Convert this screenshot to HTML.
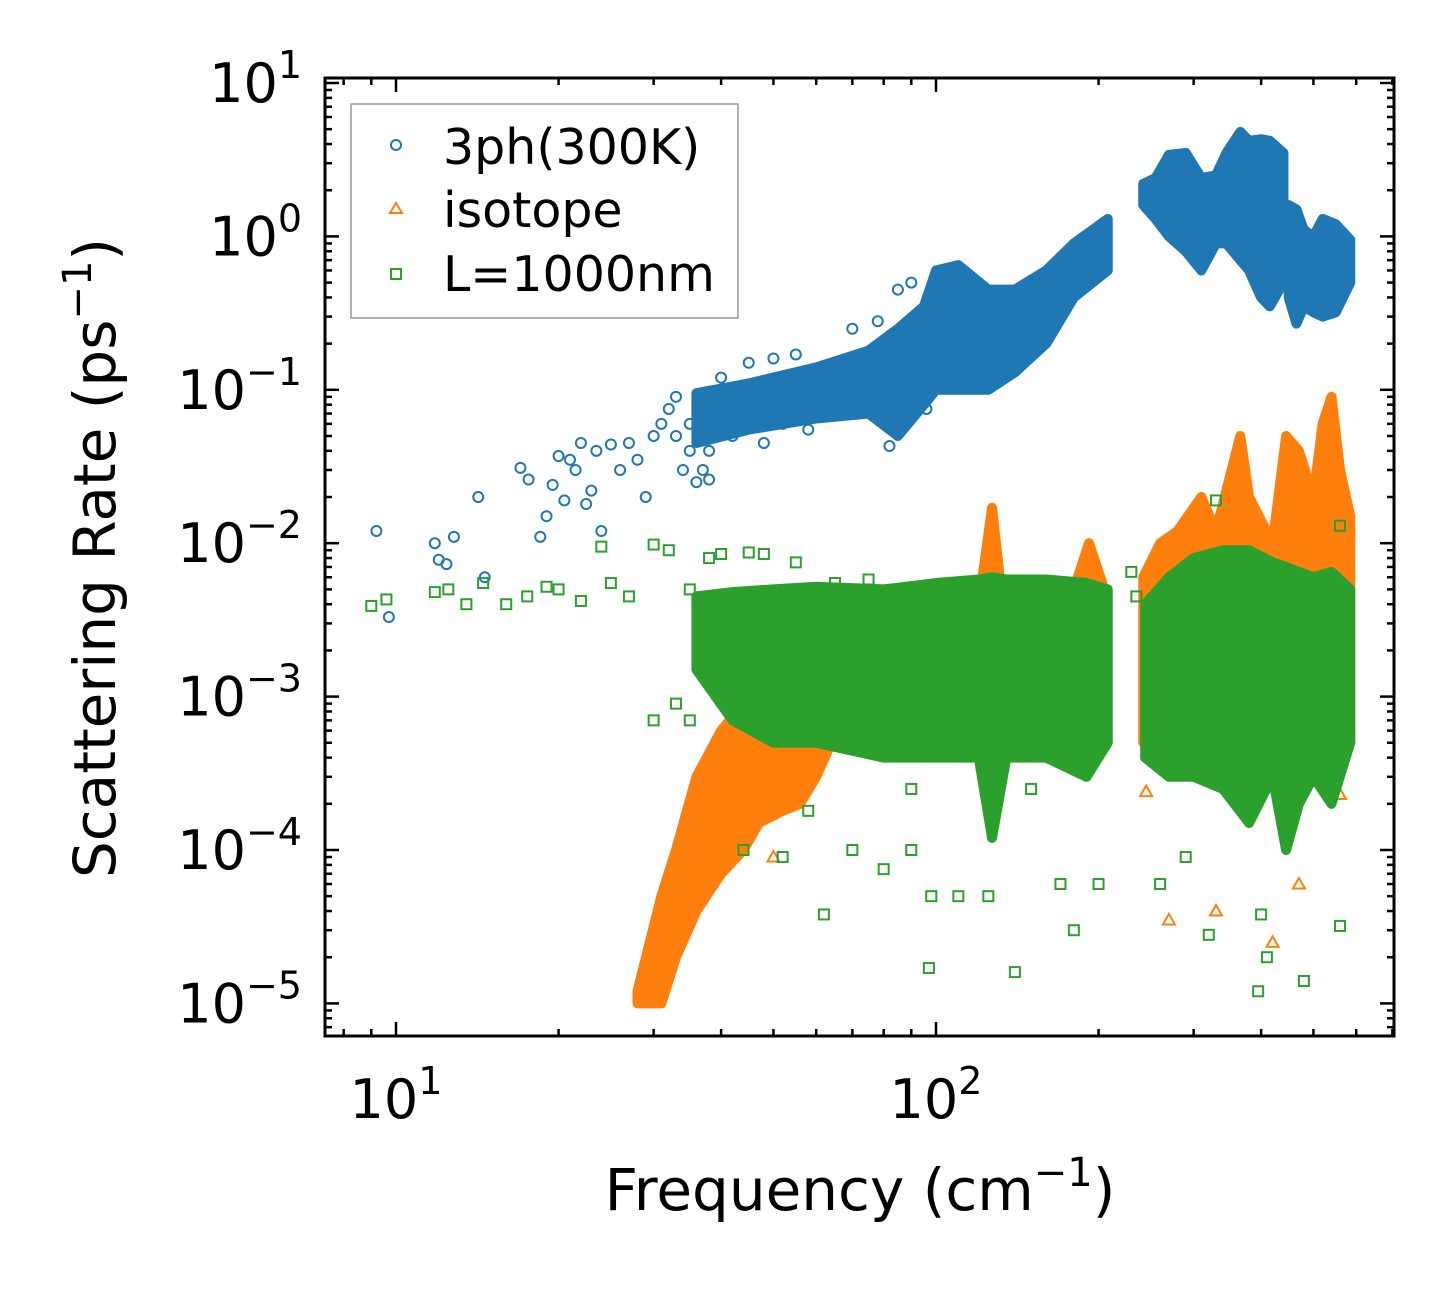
<!DOCTYPE html>
<html><head><meta charset="utf-8"><style>
html,body{margin:0;padding:0;background:#fff;}
svg text{font-family:"DejaVu Sans","Liberation Sans",sans-serif;fill:#000;}
</style></head><body>
<svg id="chart" width="1455" height="1285" viewBox="0 0 1455 1285" xmlns="http://www.w3.org/2000/svg">
<g id="marks"></g>
<g id="axes"></g>
<rect x="325" y="78" width="1069" height="958" fill="none" stroke="#000" stroke-width="3"/>
<g>
<rect x="351" y="104" width="387" height="214" fill="#fff" stroke="#999" stroke-width="1.5"/>
<g><circle cx="396" cy="145" r="5" fill="none" stroke="#1f77b4" stroke-width="2"/><text x="443" y="164" font-size="49">3ph(300K)</text></g>
<g><polygon points="396,203 402,213 390,213" fill="none" stroke="#ff7f0e" stroke-width="2"/><text x="443" y="227" font-size="49">isotope</text></g>
<g><rect x="391" y="269" width="10" height="10" fill="none" stroke="#2ca02c" stroke-width="2"/><text x="443" y="291" font-size="49">L=1000nm</text></g>
</g>
<text x="860" y="1210" font-size="58" text-anchor="middle">Frequency (cm<tspan dy="-24" font-size="40">−1</tspan><tspan dy="24">)</tspan></text>
<text transform="translate(115,558) rotate(-90)" font-size="58" text-anchor="middle">Scattering Rate (ps<tspan dy="-24" font-size="40">−1</tspan><tspan dy="24">)</tspan></text>
</svg>
<script>
const xTickLabels=["1","2"];
const yTickExps=[1,0,-1,-2,-3,-4,-5];
// blue dense bands
const blueSegFreq=[[36,45,60,75,85,95,100,110,125,140,160,180,208],[242,255,270,290,310,330],[330,345,366,380,400,415,440],[450,465,480,500,520,550,585]];
const blueSegLo=[[0.045,0.055,0.065,0.07,0.05,0.08,0.1,0.1,0.1,0.13,0.2,0.4,0.6],[1.6,1.3,1.0,0.8,0.6,0.9],[0.9,0.9,0.7,0.6,0.4,0.35,0.5],[0.4,0.27,0.35,0.32,0.3,0.32,0.5]];
const blueSegHi=[[0.095,0.11,0.14,0.18,0.25,0.35,0.6,0.65,0.45,0.45,0.6,0.9,1.3],[2.2,2.4,3.4,3.5,2.4,2.5],[2.5,3.5,4.8,4.2,4.3,4.2,3.5],[1.6,1.5,1.1,1.0,1.3,1.2,0.95]];
const blueFreq=[9.2,9.7,11.8,12,12.4,12.8,14.2,14.6,17,17.6,18.5,19,19.5,20,20.5,21,21.5,22,22.5,23,23.5,24,25,26,27,28,29,30,31,32,33,34,35,36,37,38,40,45,50,55,70,78,82,92,96,85,90,33,35,38,42,48,52,58,65];
const blueVal=[0.012,0.0033,0.01,0.0078,0.0073,0.011,0.02,0.006,0.031,0.026,0.011,0.015,0.024,0.037,0.019,0.035,0.03,0.045,0.018,0.022,0.04,0.012,0.044,0.03,0.045,0.035,0.02,0.05,0.06,0.075,0.09,0.03,0.04,0.025,0.03,0.026,0.12,0.15,0.16,0.17,0.25,0.28,0.043,0.08,0.075,0.45,0.5,0.05,0.06,0.04,0.05,0.045,0.06,0.055,0.07];
// orange bands
const orSegFreq=[[28,31,33,36,40,44,47,52,56,60,64,75,100,120,127,132,150,180,192,205],[242,260,280,310,330,366,380,420,445,470,500,520,540,560,585]];
const orSegLo=[[0.00001,0.00001,0.00002,0.00004,0.00007,0.0001,0.00015,0.00018,0.0002,0.0003,0.0005,0.0006,0.0006,0.0006,0.0005,0.0006,0.0006,0.0006,0.0006,0.0006],[0.0005,0.0005,0.0005,0.0005,0.0005,0.0005,0.0004,0.0004,0.0004,0.0004,0.0004,0.0004,0.0004,0.0004,0.0005]];
const orSegHi=[[0.000012,0.00005,0.0001,0.0003,0.0006,0.0009,0.001,0.0012,0.0015,0.002,0.003,0.004,0.004,0.004,0.017,0.005,0.005,0.005,0.01,0.005],[0.006,0.01,0.012,0.02,0.012,0.05,0.02,0.01,0.05,0.04,0.02,0.06,0.09,0.03,0.015]];
const orFreq=[50,245,270,330,420,470,560,570];
const orVal=[0.00009,0.00024,0.000035,0.00004,0.000025,0.00006,0.00023,0.0005];
// green bands
const grSegFreq=[[36,42,50,60,80,100,120,127,135,160,190,208],[244,270,300,340,380,420,445,470,500,540,585]];
const grSegLo=[[0.0015,0.0007,0.0005,0.0005,0.0004,0.0004,0.0004,0.00012,0.0004,0.0004,0.0003,0.0005],[0.0004,0.0003,0.0003,0.00025,0.00015,0.0003,0.0001,0.0002,0.0003,0.0002,0.0005]];
const grSegHi=[[0.0045,0.0048,0.005,0.0052,0.005,0.0055,0.0058,0.006,0.0058,0.0058,0.0055,0.005],[0.004,0.006,0.008,0.009,0.009,0.0075,0.007,0.0065,0.006,0.0065,0.005]];
const grFreq=[9,9.6,11.8,12.5,13.5,14.5,16,17.5,19,20,22,24,25,27,30,32,35,38,30,33,35,44,52,58,62,70,80,90,97,98,110,125,140,170,180,200,260,290,320,400,410,395,480,560,560,330,40,45,48,55,65,75,90,150,230,235];
const grVal=[0.0039,0.0043,0.0048,0.005,0.004,0.0055,0.004,0.0045,0.0052,0.005,0.0042,0.0095,0.0055,0.0045,0.0098,0.009,0.005,0.008,0.0007,0.0009,0.0007,0.0001,0.00009,0.00018,0.000038,0.0001,0.000075,0.0001,0.000017,0.00005,0.00005,0.00005,0.000016,0.00006,0.00003,0.00006,0.00006,0.00009,0.000028,0.000038,0.00002,0.000012,0.000014,0.000032,0.013,0.019,0.0085,0.0087,0.0085,0.0075,0.0055,0.0058,0.00025,0.00025,0.0065,0.0045];

const NS='http://www.w3.org/2000/svg';
const X=f=>396+540*(Math.log10(f)-1);
const Y=v=>83-153.4*(Math.log10(v)-1);
const marks=document.getElementById('marks'), axes=document.getElementById('axes');
function mk(tag,attrs,parent){const e=document.createElementNS(NS,tag);for(const k in attrs)e.setAttribute(k,attrs[k]);parent.appendChild(e);return e;}
function bands(F,L,H,color,name){
  F.forEach((fr,i)=>{
    const pts=fr.map((f,j)=>X(f)+','+Y(H[i][j])).concat(fr.slice().reverse().map((f,j)=>X(f)+','+Y(L[i][fr.length-1-j])));
    const p=mk('polygon',{points:pts.join(' '),fill:color,stroke:color,'stroke-width':10,'stroke-linejoin':'round'},marks);
    
    
  });
}
function pts(F,V,color,shape,name){
  F.forEach((f,i)=>{
    const x=X(f),y=Y(V[i]);let e;
    if(shape==='c')e=mk('circle',{cx:x,cy:y,r:5,fill:'none',stroke:color,'stroke-width':2},marks);
    else if(shape==='t')e=mk('polygon',{points:`${x},${y-6} ${x+6},${y+4.5} ${x-6},${y+4.5}`,fill:'none',stroke:color,'stroke-width':2},marks);
    else e=mk('rect',{x:x-5,y:y-5,width:10,height:10,fill:'none',stroke:color,'stroke-width':2},marks);
    
    
  });
}
bands(blueSegFreq,blueSegLo,blueSegHi,'#1f77b4','3ph');
pts(blueFreq,blueVal,'#1f77b4','c','3ph');
bands(orSegFreq,orSegLo,orSegHi,'#ff7f0e','isotope');
pts(orFreq,orVal,'#ff7f0e','t','isotope');
bands(grSegFreq,grSegLo,grSegHi,'#2ca02c','boundary');
pts(grFreq,grVal,'#2ca02c','s','boundary');

const L=325,R=1394,T=78,B=1036;
for(let d=0;d<3;d++){for(let m=1;m<10;m++){const f=Math.pow(10,d)*m;const x=X(f);if(x<L||x>R)continue;const len=m===1?14:7;
  let t=mk('line',{x1:x,x2:x,y1:B,y2:B-len,stroke:'#000','stroke-width':2.5},axes);
  t=mk('line',{x1:x,x2:x,y1:T,y2:T+len,stroke:'#000','stroke-width':2.5},axes);}}
xTickLabels.forEach((s,i)=>{const x=X(Math.pow(10,i+1));const t=mk('text',{x:x,y:1118,'font-size':54,'text-anchor':'middle'},axes);t.innerHTML='10<tspan dy="-24" font-size="38">'+s+'</tspan>';
  });
for(let d=-6;d<2;d++){for(let m=1;m<10;m++){const v=Math.pow(10,d)*m;const y=Y(v);if(y<T||y>B)continue;const len=m===1?14:7;
  let t=mk('line',{x1:L,x2:L+len,y1:y,y2:y,stroke:'#000','stroke-width':2.5},axes);
  t=mk('line',{x1:R,x2:R-len,y1:y,y2:y,stroke:'#000','stroke-width':2.5},axes);}}
yTickExps.forEach(e=>{const y=Y(Math.pow(10,e));const t=mk('text',{x:302,y:y+19,'font-size':54,'text-anchor':'end'},axes);
  t.innerHTML='10<tspan dy="-24" font-size="38">'+(e<0?'−'+(-e):e)+'</tspan>';
  });
</script>
</body></html>
